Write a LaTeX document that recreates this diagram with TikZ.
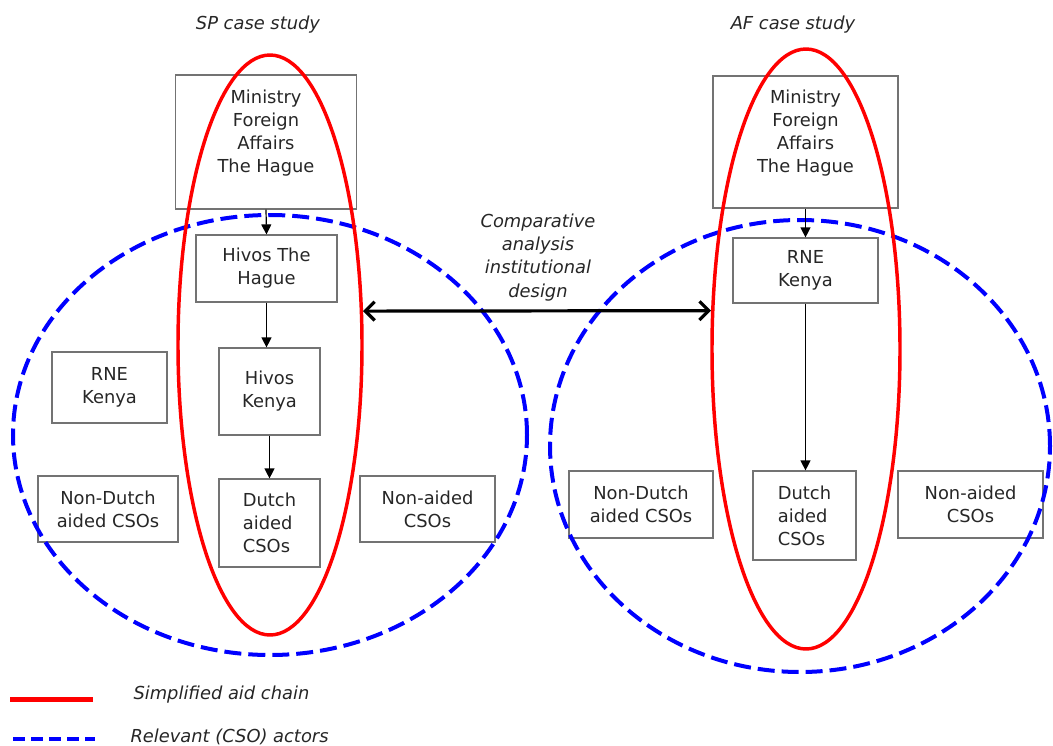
\documentclass[tikz,border=0pt]{standalone}
\usepackage{fontspec}
\setmainfont{DejaVu Sans}
\usetikzlibrary{shapes.geometric,arrows.meta}

\tikzset{every picture/.style={line width=0.75pt}}
\tikzset{
  actor/.style={draw=black!55,line width=0.9pt,inner sep=0.75pt,align=center,text=black!85,font=\fontsize{13.4}{17.3}\selectfont},
  chainring/.style={ellipse,draw=red,line width=2.6pt,inner sep=0pt},
  csoring/.style={ellipse,draw=blue,line width=3pt,dash pattern=on 12.75pt off 5.25pt,inner sep=0pt},
  flow/.style={-{Triangle[length=7.5pt,width=7.5pt]},black,line width=0.9pt},
  compare/.style={{Straight Barb[length=7pt,width=14pt]}-{Straight Barb[length=7pt,width=14pt]},line width=2.4pt},
  caption/.style={inner sep=0.75pt,text=black!85,font=\fontsize{13.4}{17.3}\selectfont\itshape}
}

\begin{document}
\begin{tikzpicture}[x=0.75pt,y=0.75pt,yscale=-1,xscale=1]
\path[use as bounding box] (0,0) rectangle (1053,746);

% Text Node
\draw (258,25) node [caption] (spcase) {SP case study};
% Text Node
\draw (793,25) node [caption] (afcase) {AF case study};

%Shape: Rectangle -- SP chain
\draw (266,142) node [actor,minimum width=135.75pt,minimum height=100.5pt] (mfaL) {Ministry\\Foreign\\Affairs\\The Hague\\[-6pt]\strut};
\draw (266.5,268.5) node [actor,minimum width=105.75pt,minimum height=50.25pt] (hivosHQ) {Hivos The\\Hague};
\draw (269.5,391.5) node [actor,minimum width=75.75pt,minimum height=65.25pt] (hivosKE) {Hivos\\Kenya};
\draw (269.5,523) node [actor,align=left,minimum width=75.75pt,minimum height=66pt] (dutchL) {Dutch\\aided\\CSOs};
%Shape: Rectangle -- SP other actors
\draw (109.5,387.5) node [actor,minimum width=86.25pt,minimum height=53.25pt] (rneL) {RNE\\Kenya};
\draw (108,509) node [actor,minimum width=105pt,minimum height=49.5pt] (nondutchL) {Non-Dutch\\aided CSOs};
\draw (427.5,509) node [actor,minimum width=101.25pt,minimum height=49.5pt] (nonaidL) {Non-aided\\CSOs};

%Shape: Rectangle -- AF chain
\draw (805.5,142) node [actor,minimum width=138.75pt,minimum height=99pt] (mfaR) {Ministry\\Foreign\\Affairs\\The Hague\\[-6pt]\strut};
\draw (805.5,270.5) node [actor,minimum width=108.75pt,minimum height=48.75pt] (rneR) {RNE\\Kenya};
\draw (804.5,515.5) node [actor,align=left,minimum width=77.25pt,minimum height=66.75pt] (dutchR) {Dutch\\aided\\CSOs};
%Shape: Rectangle -- AF other actors
\draw (641,504.5) node [actor,minimum width=108pt,minimum height=50.25pt] (nondutchR) {Non-Dutch\\aided CSOs};
\draw (970.5,504.5) node [actor,minimum width=108.75pt,minimum height=50.25pt] (nonaidR) {Non-aided\\CSOs};

%Shape: Ellipse -- relevant actors
\draw (270,435) node [csoring,minimum width=385.5pt,minimum height=330pt] (csoL) {};
\draw (800,446) node [csoring,minimum width=375pt,minimum height=339pt] (csoR) {};
%Shape: Ellipse -- aid chain
\draw (270,345) node [chainring,minimum width=138pt,minimum height=435pt] (chainL) {};
\draw (806,349) node [chainring,minimum width=141pt,minimum height=450pt] (chainR) {};

%Straight Lines -- aid flows
\draw [flow] (mfaL.south) -- (hivosHQ.north);
\draw [flow] (hivosHQ.south) -- (hivosHQ.south |- hivosKE.north);
\draw [flow] (hivosKE.south) -- (dutchL.north);
\draw [flow] (mfaR.south) -- (rneR.north);
\draw [flow] (rneR.south) -- (rneR.south |- dutchR.north);

%Straight Lines -- comparison
\draw [compare] (chainL.20) -- (chainR.158);
% Text Node
\draw (538,257.5) node [caption,align=center] (comparison) {Comparative\\analysis\\institutional\\design};

%Legend
\draw [red,line width=3.75pt] (10,699) -- (93,699);
\draw (132,695) node [caption,anchor=west] (keychain) {Simplified aid chain};
\draw [blue,line width=3pt,dash pattern=on 9pt off 4.5pt] (13,739) -- (95,739);
\draw (129,737) node [caption,anchor=west] (keycso) {Relevant (CSO) actors};

\end{tikzpicture}
\end{document}
